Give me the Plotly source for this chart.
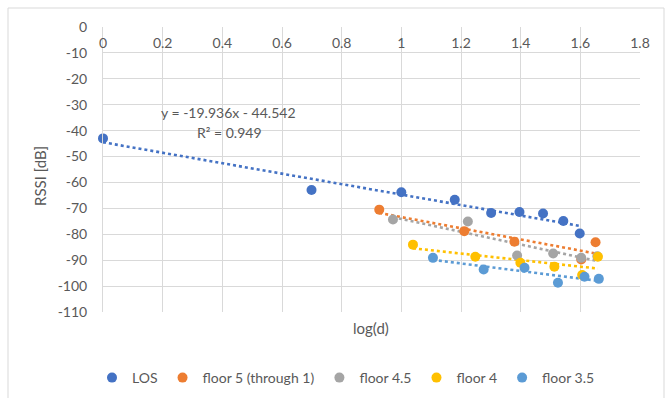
import numpy as np
import plotly.graph_objects as go

# ---- data (log10 distance, RSSI dB) ----
los_x = [0.0, 0.699, 1.0, 1.179, 1.301, 1.396, 1.475, 1.543, 1.598]
los_y = [-43.0, -62.9, -63.8, -66.7, -71.8, -71.4, -72.0, -74.9, -79.7]

f5_x = [0.926, 1.211, 1.379, 1.603, 1.651]
f5_y = [-70.5, -78.8, -82.9, -89.7, -83.1]

f45_x = [0.972, 1.223, 1.388, 1.509, 1.603, 1.657]
f45_y = [-74.3, -75.1, -88.2, -87.4, -89.1, -88.5]

f4_x = [1.039, 1.248, 1.399, 1.513, 1.606, 1.659]
f4_y = [-84.0, -88.7, -91.0, -92.5, -95.7, -88.7]

f35_x = [1.106, 1.276, 1.413, 1.525, 1.614, 1.662]
f35_y = [-89.1, -93.6, -92.9, -98.7, -96.4, -97.2]

series_names = ["LOS", "floor 5 (through 1)", "floor 4.5", "floor 4", "floor 3.5"]
x_ticks = [0, 0.2, 0.4, 0.6, 0.8, 1, 1.2, 1.4, 1.6, 1.8]
x_tick_text = ["0", "0.2", "0.4", "0.6", "0.8", "1", "1.2", "1.4", "1.6", "1.8"]
y_ticks = list(range(-110, 1, 10))
y_tick_text = [str(v) for v in y_ticks]

eq_text = "y = -19.936x - 44.542"
r2_text = "R² = 0.949"

colors = ["#4472C4", "#ED7D31", "#A5A5A5", "#FFC000", "#5B9BD5"]
FONT = "Lato"
TXT = "#595959"

fig = go.Figure()
data = [(los_x, los_y), (f5_x, f5_y), (f45_x, f45_y), (f4_x, f4_y), (f35_x, f35_y)]

# trendlines first (under markers)
for (xs, ys), c in zip(data, colors):
    k, b = np.polyfit(xs, ys, 1)
    tx = np.array([min(xs), max(xs)])
    fig.add_trace(go.Scatter(x=tx, y=k * tx + b, mode="lines",
                             line=dict(color=c, width=2.6, dash="dot"),
                             showlegend=False, hoverinfo="skip", cliponaxis=False))

for (xs, ys), c, n in zip(data, colors, series_names):
    fig.add_trace(go.Scatter(x=xs, y=ys, mode="markers", name=n, cliponaxis=False,
                             marker=dict(color=c, size=10)))

L, R, T, B = 103, 25, 27, 86
W, H = 665, 398
pw, ph = W - L - R, H - T - B

def px(x):
    return (x - L) / pw

def py(y):
    return (H - B - y) / ph

fig.update_layout(
    width=W, height=H,
    margin=dict(l=L, r=R, t=T, b=B, autoexpand=False),
    paper_bgcolor="white", plot_bgcolor="white",
    font=dict(family=FONT, size=14, color=TXT),
    showlegend=True,
    legend=dict(orientation="h", x=px(346), xanchor="center", y=py(378), yanchor="middle",
                font=dict(size=14, color=TXT), itemwidth=30, tracegroupgap=0),
    xaxis=dict(range=[0, 1.8], tickvals=x_ticks, ticktext=x_tick_text, automargin=False,
               side="top", ticklabelposition="inside", ticklabelstandoff=8,
               ticklabeloverflow="allow",
               showgrid=True, gridcolor="#D9D9D9", gridwidth=1,
               showline=False, zeroline=False, ticks="",
               tickfont=dict(size=14, color=TXT)),
    yaxis=dict(range=[-110, 0], tickvals=y_ticks, ticktext=y_tick_text, automargin=False,
               showgrid=True, gridcolor="#D9D9D9", gridwidth=1,
               ticklabeloverflow="allow",
               zeroline=False, showline=True, linecolor="#D9D9D9", mirror=False,
               ticks="", ticklabelstandoff=12,
               tickfont=dict(size=14, color=TXT)),
    shapes=[dict(type="rect", xref="paper", yref="paper",
                 x0=px(8), x1=px(664), y0=py(402), y1=py(8),
                 line=dict(color="#D9D9D9", width=1), fillcolor="rgba(0,0,0,0)", layer="below")],
    annotations=[
        dict(text="RSSI [dB]", xref="paper", yref="paper", x=px(40), y=py(176), textangle=-90,
             showarrow=False, font=dict(size=15, color=TXT), xanchor="center", yanchor="middle"),
        dict(text="log(d)", xref="paper", yref="paper", x=px(371), y=py(328),
             showarrow=False, font=dict(size=15, color=TXT), xanchor="center", yanchor="middle"),
        dict(text=eq_text, xref="paper", yref="paper", x=px(228), y=py(112), showarrow=False,
             font=dict(size=14, color=TXT), xanchor="center", yanchor="middle"),
        dict(text=r2_text, xref="paper", yref="paper", x=px(229), y=py(132), showarrow=False,
             font=dict(size=14, color=TXT), xanchor="center", yanchor="middle"),
    ],
)

fig.write_html("out.html", config={"displayModeBar": False},
               post_script="document.body.style.margin='0';document.body.style.overflow='hidden';")
